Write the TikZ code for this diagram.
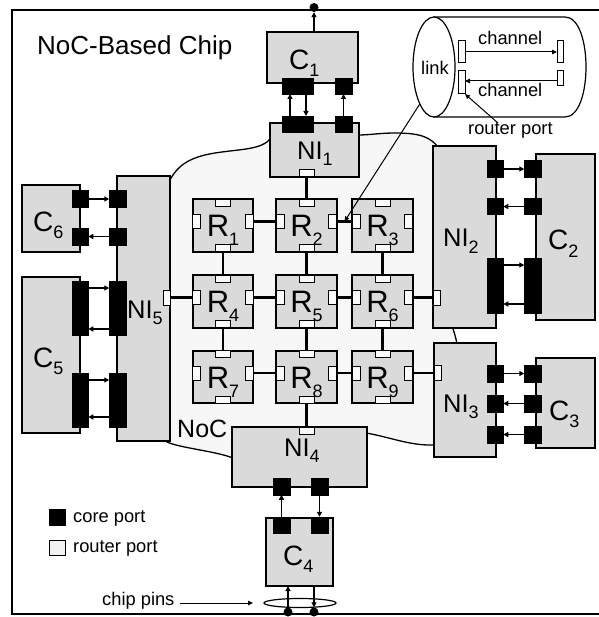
\documentclass[tikz,border=0pt]{standalone}
\usepackage{fontspec}
\setmainfont{Liberation Sans}
\usetikzlibrary{arrows.meta,shapes.geometric,calc}
\definecolor{boxgray}{RGB}{218,218,218}
\definecolor{nocgray}{RGB}{247,247,247}
\definecolor{portwhite}{RGB}{250,250,250}
\newcommand{\fsz}[1]{\fontsize{#1}{#1}\selectfont}
\newcommand{\sbs}[2][7pt]{\raisebox{-#1}{\fsz{18}#2}}
\begin{document}
\begin{tikzpicture}[x=1pt,y=-1pt,
  blk/.style={draw=black, fill=boxgray, line width=1.3pt, inner sep=0pt, outer sep=0pt},
  rtr/.style={draw=black, fill=boxgray, line width=1.6pt, inner sep=0pt, outer sep=0pt, minimum width=60.5pt, minimum height=52.5pt},
  cport/.style={draw=black, fill=black, line width=0.5pt, inner sep=0pt, outer sep=0pt},
  sq/.style={cport, minimum width=16.5pt, minimum height=16.5pt},
  tall/.style={cport, minimum width=16.5pt, minimum height=54pt},
  rport/.style={draw=black, fill=portwhite, line width=1pt, inner sep=0pt, outer sep=0pt},
  lnk/.style={line width=2.4pt},
  arr/.style={line width=1.3pt, -{Triangle[length=5pt,width=5pt]}},
  thinarr/.style={line width=1pt, -{Triangle[length=5pt,width=4.5pt]}},
  txt/.style={inner sep=0pt, anchor=base west, font=\fsz{18.3}},
  clbl/.style={inner sep=0pt, anchor=base west, font=\fsz{28}},
  nlbl/.style={inner sep=0pt, anchor=base west, font=\fsz{25.5}},
  pin/.style={circle, fill=black, inner sep=0pt, minimum size=9pt},
]
\useasboundingbox (0,0) rectangle (598,617);
% chip border
\draw[line width=1.3pt] (600,10) -- (12,10) -- (12,614) -- (600,614);
% NoC region
\draw[fill=nocgray, line width=1.3pt] (300,140) -- (271,138)
  .. controls (262,150) and (240,149) .. (215,153)
  .. controls (190,157) and (178,165) .. (170,180)
  -- (165,182) -- (165,440) -- (167,442)
  .. controls (180,448) and (215,451) .. (233,458)
  -- (300,458) -- (366,433)
  .. controls (390,437) and (410,446) .. (435,445)
  -- (445,445) -- (457,345)
  .. controls (456,337) and (454,332) .. (452,326)
  -- (445,200) -- (438,147)
  .. controls (430,137) and (420,133) .. (395,133)
  .. controls (380,133) and (370,135) .. (358,135)
  -- cycle;
% cores and network interfaces
\node[blk, minimum width=91pt, minimum height=51pt] (C1) at (312.5,57.5) {};
\node[blk, minimum width=89pt, minimum height=54pt] (NI1) at (314.5,150) {};
\node[blk, minimum width=58pt, minimum height=67pt] (C6) at (51,218.5) {};
\node[blk, minimum width=58pt, minimum height=156pt] (C5) at (51,355) {};
\node[blk, minimum width=53pt, minimum height=265pt] (NI5) at (143.5,308.5) {};
\node[blk, minimum width=63pt, minimum height=182pt] (NI2) at (464.5,237) {};
\node[blk, minimum width=59pt, minimum height=166pt] (C2) at (565.5,237) {};
\node[blk, minimum width=62pt, minimum height=114pt] (NI3) at (465,400) {};
\node[blk, minimum width=59pt, minimum height=90pt] (C3) at (565.5,403) {};
\node[blk, minimum width=135pt, minimum height=60pt] (NI4) at (299.5,457) {};
\node[blk, minimum width=67pt, minimum height=68pt] (C4) at (299.5,552) {};
% routers
\foreach \n/\cx/\cy in {1/223/225.5, 2/306.5/225.5, 3/382.5/225.5, 4/223/301.5, 5/306.5/301.5, 6/382.5/301.5, 7/223/377, 8/306.5/377, 9/382.5/377}{
  \node[rtr] (R\n) at (\cx,\cy) {};
  \node[rport, minimum width=15pt, minimum height=7pt, anchor=north] (R\n-t) at (R\n.north) {};
  \node[rport, minimum width=15pt, minimum height=7pt, anchor=south] (R\n-b) at (R\n.south) {};
  \node[rport, minimum width=8pt, minimum height=14pt, anchor=west] (R\n-l) at ([yshift=4pt]R\n.west) {};
  \node[rport, minimum width=8pt, minimum height=14pt, anchor=east] (R\n-r) at ([yshift=4pt]R\n.east) {};
  \node[inner sep=0pt, anchor=base, font=\fsz{31}] (R\n-lbl) at (\cx,\cy+11) {R\sbs[9pt]{\n}};
}
\foreach \a/\b in {1/2,2/3,4/5,5/6,7/8,8/9} \draw[lnk] (R\a-r.east) -- (R\b-l.west);
\foreach \a/\b in {1/4,2/5,3/6,4/7,5/8,6/9} \draw[lnk] (R\a-b.south) -- (R\b-t.north);
% router ports of the network interfaces
\node[rport, minimum width=15pt, minimum height=7pt, anchor=south] (NI1p) at ([xshift=-8pt]NI1.south) {};
\node[rport, minimum width=15pt, minimum height=7pt, anchor=north] (NI4p) at ([xshift=7pt]NI4.north) {};
\node[rport, minimum width=7pt, minimum height=15pt, anchor=east] (NI5p) at ([yshift=11pt]NI5.east) {};
\node[rport, minimum width=7pt, minimum height=15pt, anchor=west] (NI2p) at ([yshift=-60.5pt]NI2.west) {};
\node[rport, minimum width=7pt, minimum height=15pt, anchor=west] (NI3p) at ([yshift=27pt]NI3.west) {};
\draw[lnk] (NI1p.south) -- (R2-t.north);
\draw[lnk] (R8-b.south) -- (NI4p.north);
\draw[lnk] (NI5p.east) -- (R4-l.west);
\draw[lnk] (R6-r.east) -- (NI2p.west);
\draw[lnk] (R9-r.east) -- (NI3p.west);
% core ports
\node[cport, minimum width=31pt, minimum height=16pt] (C1a) at (297.5,86) {};
\node[cport, minimum width=17pt, minimum height=16pt] (C1b) at (343.5,86) {};
\node[cport, minimum width=31pt, minimum height=16pt] (NI1a) at (297.5,124) {};
\node[cport, minimum width=17pt, minimum height=16pt] (NI1b) at (343.5,124) {};
\node[sq] (C6a) at (80,199) {};
\node[sq] (C6b) at (80,236.5) {};
\node[sq] (NI5a) at (117.5,199) {};
\node[sq] (NI5b) at (117.5,236.5) {};
\node[tall] (C5a) at (80,308.5) {};
\node[tall] (C5b) at (80,400) {};
\node[tall] (NI5c) at (117.5,308.5) {};
\node[tall] (NI5d) at (117.5,400) {};
\node[sq] (NI2a) at (495,169) {};
\node[sq] (NI2b) at (495,206.5) {};
\node[tall, minimum height=55pt] (NI2c) at (495,285.5) {};
\node[sq] (C2a) at (532.5,169) {};
\node[sq] (C2b) at (532.5,206.5) {};
\node[tall, minimum height=55pt] (C2c) at (532.5,285.5) {};
\node[sq] (NI3a) at (495,373.5) {};
\node[sq] (NI3b) at (495,403.5) {};
\node[sq] (NI3c) at (495,434.5) {};
\node[sq] (C3a) at (532.5,373.5) {};
\node[sq] (C3b) at (532.5,403.5) {};
\node[sq] (C3c) at (532.5,434.5) {};
\node[sq] (NI4a) at (281.5,486.5) {};
\node[sq] (NI4b) at (319.5,486.5) {};
\node[sq] (C4a) at (281.5,525) {};
\node[sq] (C4b) at (319.5,525) {};
% core-port arrows
\draw[arr] ([xshift=-7.5pt]NI1a.north) -- ([xshift=-7.5pt]C1a.south);
\draw[arr] ([xshift=8.5pt]C1a.south) -- ([xshift=8.5pt]NI1a.north);
\draw[arr] (NI1b.north) -- (C1b.south);
\draw[arr] (C6a.east) -- (NI5a.west);
\draw[arr] (NI5b.west) -- (C6b.east);
\draw[arr] ([yshift=20.5pt]C5a.east) -- ([yshift=20.5pt]NI5c.west);
\draw[arr] ([yshift=-20.5pt]NI5c.west) -- ([yshift=-20.5pt]C5a.east);
\draw[arr] ([yshift=20pt]C5b.east) -- ([yshift=20pt]NI5d.west);
\draw[arr] ([yshift=-17pt]NI5d.west) -- ([yshift=-17pt]C5b.east);
\draw[arr] (NI2a.east) -- (C2a.west);
\draw[arr] (C2b.west) -- (NI2b.east);
\draw[arr] ([yshift=20.5pt]NI2c.east) -- ([yshift=20.5pt]C2c.west);
\draw[arr] ([yshift=-18.5pt]C2c.west) -- ([yshift=-18.5pt]NI2c.east);
\draw[arr] (NI3a.east) -- (C3a.west);
\draw[arr] (C3b.west) -- (NI3b.east);
\draw[arr] (C3c.west) -- (NI3c.east);
\draw[arr] (C4a.north) -- (NI4a.south);
\draw[arr] (NI4b.south) -- (C4b.north);
% labels
\node[clbl] (C1l) at (289,70) {C\sbs{1}};
\node[clbl] (C2l) at (548,250) {C\sbs{2}};
\node[clbl] (C3l) at (549,420) {C\sbs{3}};
\node[clbl] (C4l) at (283,565) {C\sbs{4}};
\node[clbl] (C5l) at (33,367) {C\sbs{5}};
\node[clbl] (C6l) at (33,232) {C\sbs{6}};
\node[nlbl] (NI1l) at (297,160) {NI\sbs[6pt]{1}};
\node[nlbl] (NI2l) at (443,247) {NI\sbs[6pt]{2}};
\node[nlbl] (NI3l) at (443,412.7) {NI\sbs[6pt]{3}};
\node[nlbl] (NI4l) at (284,456.7) {NI\sbs[6pt]{4}};
\node[nlbl] (NI5l) at (127,318) {NI\sbs[6pt]{5}};
\node[inner sep=0pt, anchor=base west, font=\fsz{26}] (title) at (37,55) {NoC-Based Chip};
\node[inner sep=0pt, anchor=base west, font=\fsz{25}] (noclbl) at (177,437) {NoC};
% link callout
\draw[line width=1.2pt, fill=white] (434,17) -- (565,17) .. controls (593,17) and (593,117) .. (565,117) -- (434,117) -- cycle;
\node[ellipse, draw, line width=1.2pt, fill=white, minimum width=42pt, minimum height=100pt, inner sep=0pt, outer sep=0pt] (linkend) at (434,67) {};
\node[txt] (linktxt) at (421,75) {link};
\node[rport, minimum width=7pt, minimum height=22pt] (lp1) at (461.5,52) {};
\node[rport, minimum width=6pt, minimum height=22pt] (rp1) at (560,52) {};
\node[rport, minimum width=7pt, minimum height=23pt] (lp2) at (461.5,82.5) {};
\node[rport, minimum width=6pt, minimum height=15pt] (rp2) at (560,78.5) {};
\draw[thinarr] (lp1.east) -- (rp1.west);
\draw[thinarr] ([yshift=-2.5pt]rp2.west) -- ([yshift=1.5pt]lp2.east);
\node[txt] (ch1) at (478,44.5) {channel};
\node[txt] (ch2) at (478,96.5) {channel};
\node[txt] (rptxt) at (468,135) {router port};
\draw[thinarr] ([xshift=-12.5pt]rptxt.north) -- (lp2.south east);
\draw[thinarr] (linkend.249) -- ($(R2-r.east)!0.5!(R3-l.west)$);
% legend
\node[cport, minimum size=16pt] (lgcore) at (57,517) {};
\node[rport, fill=white!95!black, minimum width=16pt, minimum height=15pt] (lgrouter) at (57,547.5) {};
\node[txt] (lgcoretxt) at (73,522) {core port};
\node[txt] (lgroutertxt) at (73,552) {router port};
% pins
\node[pin] (pinT) at (314,7.5) {};
\node[pin] (pinL) at (288,612) {};
\node[pin] (pinR) at (314,612) {};
\draw[arr] ([xshift=1.5pt]C1.north) -- (pinT.south);
\draw[arr] (pinL.north) -- ([xshift=-11.5pt]C4.south);
\draw[arr] ([xshift=14.5pt]C4.south) -- (pinR.north);
\node[ellipse, draw, line width=1.2pt, minimum width=72pt, minimum height=9pt, inner sep=0pt] (ring) at (300,603) {};
\node[txt] (chippins) at (102,605) {chip pins};
\coordinate (ringarrow) at (253,603);
\draw[thinarr] ($(chippins.east |- ringarrow)+(5,0)$) -- (ringarrow);
\end{tikzpicture}
\end{document}
